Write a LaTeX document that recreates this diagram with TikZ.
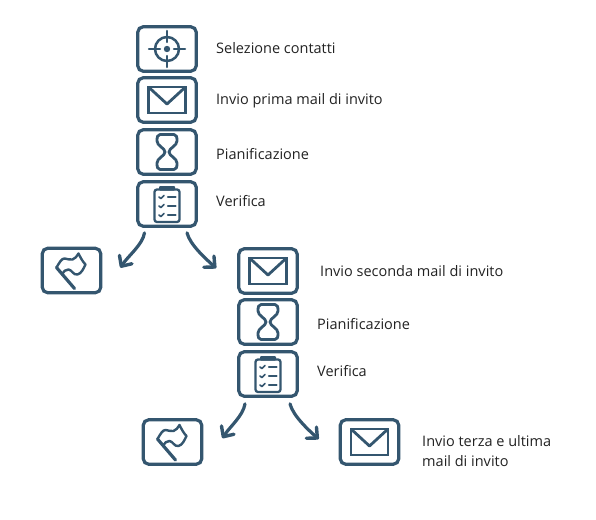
\documentclass[tikz,border=0pt]{standalone}
\usepackage{fontspec}
\setmainfont{Open Sans}
\usetikzlibrary{arrows.meta,calc}
\definecolor{ink}{HTML}{34566F}
\definecolor{txt}{HTML}{222222}
\tikzset{
  iconbox/.style={draw=ink,line width=3.2pt,rounded corners=5.5pt,minimum width=58.5pt,minimum height=44.5pt,inner sep=0pt,fill=white},
  lab/.style={anchor=west,text=txt,font=\fontsize{14.5}{20}\selectfont,inner sep=0pt,align=left},
  flow/.style={draw=ink,line width=3.2pt,line cap=round,-{Straight Barb[length=8pt,width=15pt,line width=3.4pt,round]}},
  ic/.style={draw=ink,line width=2.5pt,line join=round,line cap=round},
  pics/target/.style={code={
    \draw[ic] (0,0) circle (12);
    \draw[ic] (-18,0)--(-7,0) (7,0)--(18,0) (0,-18)--(0,-7) (0,7)--(0,18);
    \fill[ink] (0,0) circle (3.2);
  }},
  pics/mail/.style={code={
    \draw[ic,line width=2.8pt,line cap=butt,line join=miter] (-18.5,-13) rectangle (18.5,13);
    \draw[ic,line width=2.8pt,line cap=butt] (-18.5,-13)--(0,4)--(18.5,-13);
  }},
  pics/hourglass/.style={code={
    \draw[ic,line width=2.8pt] (-7,-17.5)--(7,-17.5) .. controls (9.5,-17.5) and (10,-15) .. (10,-11)
      .. controls (10,-6) and (2,-4) .. (2,0) .. controls (2,4) and (10,6) .. (10,11)
      .. controls (10,15) and (9.5,17.5) .. (7,17.5) -- (-7,17.5)
      .. controls (-9.5,17.5) and (-10,15) .. (-10,11) .. controls (-10,6) and (-2,4) .. (-2,0)
      .. controls (-2,-4) and (-10,-6) .. (-10,-11) .. controls (-10,-15) and (-9.5,-17.5) .. (-7,-17.5) -- cycle;
  }},
  pics/clip/.style={code={
    \draw[ic,rounded corners=2.5pt,line width=2.3pt] (-12.5,-14.5)--(12.5,-14.5)--(12.5,18)--(-12.5,18)--cycle;
    \fill[ink,rounded corners=1pt] (-8,-18) rectangle (8,-13.5);
    \foreach \y in {-7,2,11}{
      \draw[ic,line width=1.7pt] (-8,\y)--(-6,\y+1.5)--(-3,\y-1.5);
      \draw[ic,line width=2.2pt] (1,\y)--(8.5,\y);
    }
  }},
  pics/flag/.style={code={
    \draw[ic,line width=2.4pt] (-15,-3) .. controls (-12,-8) and (-10,-12) .. (-7,-12)
      .. controls (-4,-12) and (-1,-10) .. (1,-11) .. controls (4,-12) and (5,-14) .. (7,-17)
      .. controls (9,-13) and (11,-9) .. (14,-6) .. controls (12,-2) and (10,3) .. (6,4)
      .. controls (2,5) and (0,-1) .. (-3,-1) .. controls (-6,-1) and (-8,1) .. (-9,3);
    \draw[ic,line width=3.2pt] (-15,-3)--(3,18);
  }}
}
\begin{document}
\begin{tikzpicture}[x=1pt,y=-1pt]
\useasboundingbox (0,0) rectangle (596,519);
\node[iconbox] (n1) at (167,49) {};
\node[iconbox] (n2) at (167,100) {};
\node[iconbox] (n3) at (167,152) {};
\node[iconbox] (n4) at (167,204) {};
\node[iconbox] (f1) at (71.5,270.5) {};
\node[iconbox] (m2) at (268,271) {};
\node[iconbox] (h2) at (268,322) {};
\node[iconbox] (c2) at (268,374) {};
\node[iconbox] (f2) at (172.5,442) {};
\node[iconbox] (m3) at (369.5,442) {};
\pic at (n1) {target};
\pic at (n2) {mail};
\pic at (n3) {hourglass};
\pic at (n4) {clip};
\pic at (f1) {flag};
\pic at (m2) {mail};
\pic at (h2) {hourglass};
\pic at (c2) {clip};
\pic at (f2) {flag};
\pic at (m3) {mail};
\node[lab] (t1) at (216,48) {Selezione contatti};
\node[lab] (t2) at (216,101) {Invio prima mail di invito};
\node[lab] (t3) at (216,154) {Pianificazione};
\node[lab] (t4) at (216,201) {Verifica};
\node[lab] (t5) at (320,271) {Invio seconda mail di invito};
\node[lab] (t6) at (317,324) {Pianificazione};
\node[lab] (t7) at (317,371) {Verifica};
\node[lab] (t8) at (422,451.5) {Invio terza e ultima\\mail di invito};
\draw[flow] ($(n4.south)+(-22.5,5)$) .. controls +(-2,12) and +(8,-12) .. ($(f1.north east)+(18,21)$);
\draw[flow] ($(n4.south)+(20,5)$) .. controls +(3,12) and +(-10,-9) .. ($(m2.north west)+(-21,21)$);
\draw[flow] ($(c2.south)+(-23,6)$) .. controls +(-2,12) and +(8,-12) .. ($(f2.north east)+(19,20)$);
\draw[flow] ($(c2.south)+(22,6)$) .. controls +(3,12) and +(-10,-9) .. ($(m3.north west)+(-20,21)$);
\end{tikzpicture}
\end{document}
